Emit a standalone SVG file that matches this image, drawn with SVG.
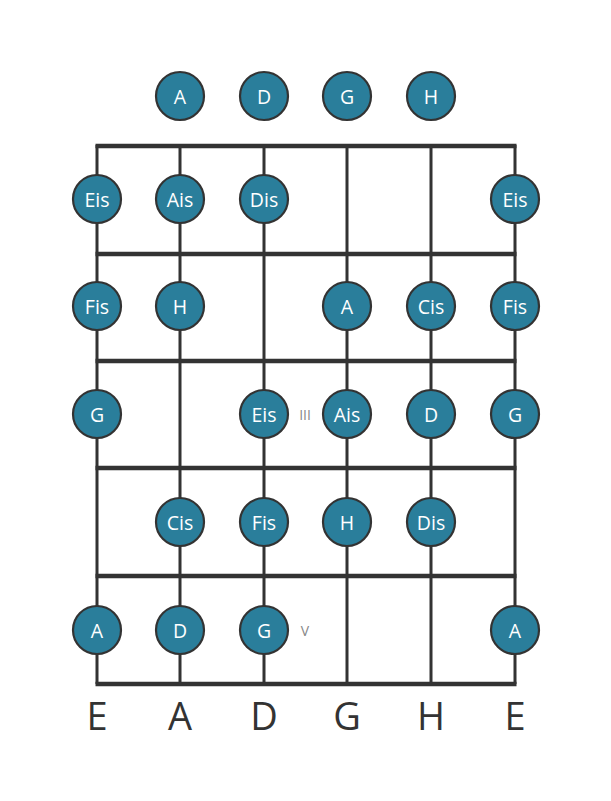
<svg xmlns="http://www.w3.org/2000/svg" width="611" height="801" viewBox="0 0 611 801">
<style>
.str{stroke:#333;stroke-width:3;fill:none}
.fret{stroke:#333;stroke-width:4.5;fill:none}
.n circle{fill:#2a7e9b;stroke:#333;stroke-width:2.2}
.n text{fill:#fff;font-family:"Open Sans","Noto Sans",sans-serif;font-size:19.5px;text-anchor:middle;dominant-baseline:central}
.lab{fill:#333;font-family:"Open Sans","Noto Sans",sans-serif;font-size:38px;text-anchor:middle}
.mk{fill:#888;font-family:"Open Sans","Noto Sans",sans-serif;font-size:14px;text-anchor:middle;dominant-baseline:central}
</style>
<rect width="611" height="801" fill="#fff"/>
<g id="connectors">
<line class="str" x1="97" y1="145" x2="97" y2="684"/>
<line class="str" x1="180" y1="145" x2="180" y2="684"/>
<line class="str" x1="264" y1="145" x2="264" y2="684"/>
<line class="str" x1="347" y1="145" x2="347" y2="684"/>
<line class="str" x1="431" y1="145" x2="431" y2="684"/>
<line class="str" x1="515" y1="145" x2="515" y2="684"/>
<line class="fret" x1="95.5" y1="146" x2="516.5" y2="146"/>
<line class="fret" x1="95.5" y1="254" x2="516.5" y2="254"/>
<line class="fret" x1="95.5" y1="361" x2="516.5" y2="361"/>
<line class="fret" x1="95.5" y1="468" x2="516.5" y2="468"/>
<line class="fret" x1="95.5" y1="576" x2="516.5" y2="576"/>
<line class="fret" x1="95.5" y1="684" x2="516.5" y2="684"/>
</g>
<g id="open-A" class="n"><circle cx="180" cy="96" r="24"/><text x="180" y="96">A</text></g>
<g id="open-D" class="n"><circle cx="264" cy="96" r="24"/><text x="264" y="96">D</text></g>
<g id="open-G" class="n"><circle cx="347" cy="96" r="24"/><text x="347" y="96">G</text></g>
<g id="open-H" class="n"><circle cx="431" cy="96" r="24"/><text x="431" y="96">H</text></g>

<g id="f1-s1" class="n"><circle cx="97" cy="199" r="24"/><text x="97" y="199">Eis</text></g>
<g id="f1-s2" class="n"><circle cx="180" cy="199" r="24"/><text x="180" y="199">Ais</text></g>
<g id="f1-s3" class="n"><circle cx="264" cy="199" r="24"/><text x="264" y="199">Dis</text></g>
<g id="f1-s6" class="n"><circle cx="515" cy="199" r="24"/><text x="515" y="199">Eis</text></g>

<g id="f2-s1" class="n"><circle cx="97" cy="306" r="24"/><text x="97" y="306">Fis</text></g>
<g id="f2-s2" class="n"><circle cx="180" cy="306" r="24"/><text x="180" y="306">H</text></g>
<g id="f2-s4" class="n"><circle cx="347" cy="306" r="24"/><text x="347" y="306">A</text></g>
<g id="f2-s5" class="n"><circle cx="431" cy="306" r="24"/><text x="431" y="306">Cis</text></g>
<g id="f2-s6" class="n"><circle cx="515" cy="306" r="24"/><text x="515" y="306">Fis</text></g>

<g id="f3-s1" class="n"><circle cx="97" cy="414" r="24"/><text x="97" y="414">G</text></g>
<g id="f3-s3" class="n"><circle cx="264" cy="414" r="24"/><text x="264" y="414">Eis</text></g>
<g id="f3-s4" class="n"><circle cx="347" cy="414" r="24"/><text x="347" y="414">Ais</text></g>
<g id="f3-s5" class="n"><circle cx="431" cy="414" r="24"/><text x="431" y="414">D</text></g>
<g id="f3-s6" class="n"><circle cx="515" cy="414" r="24"/><text x="515" y="414">G</text></g>

<g id="f4-s2" class="n"><circle cx="180" cy="522" r="24"/><text x="180" y="522">Cis</text></g>
<g id="f4-s3" class="n"><circle cx="264" cy="522" r="24"/><text x="264" y="522">Fis</text></g>
<g id="f4-s4" class="n"><circle cx="347" cy="522" r="24"/><text x="347" y="522">H</text></g>
<g id="f4-s5" class="n"><circle cx="431" cy="522" r="24"/><text x="431" y="522">Dis</text></g>

<g id="f5-s1" class="n"><circle cx="97" cy="630" r="24"/><text x="97" y="630">A</text></g>
<g id="f5-s2" class="n"><circle cx="180" cy="630" r="24"/><text x="180" y="630">D</text></g>
<g id="f5-s3" class="n"><circle cx="264" cy="630" r="24"/><text x="264" y="630">G</text></g>
<g id="f5-s6" class="n"><circle cx="515" cy="630" r="24"/><text x="515" y="630">A</text></g>

<g id="markers">
<text class="mk" x="305" y="414">III</text>
<text class="mk" x="305" y="630">V</text>
</g>
<g id="labels">
<text class="lab" x="97" y="730">E</text>
<text class="lab" x="180" y="730">A</text>
<text class="lab" x="264" y="730">D</text>
<text class="lab" x="347" y="730">G</text>
<text class="lab" x="431" y="730">H</text>
<text class="lab" x="515" y="730">E</text>
</g>
</svg>
